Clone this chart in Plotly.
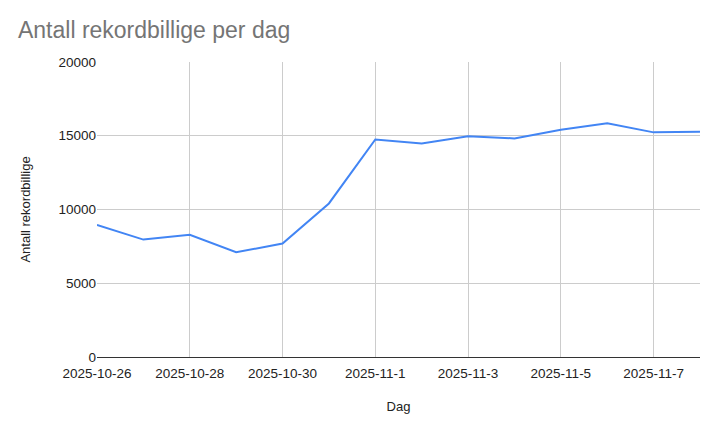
import plotly.graph_objects as go

dates = ["2025-10-26", "2025-10-27", "2025-10-28", "2025-10-29", "2025-10-30",
         "2025-10-31", "2025-11-1", "2025-11-2", "2025-11-3", "2025-11-4",
         "2025-11-5", "2025-11-6", "2025-11-7", "2025-11-8"]
antall = [8960, 7960, 8280, 7100, 7690, 10410, 14750, 14480, 14960, 14820,
          15410, 15840, 15230, 15270]
tick_labels = dates[::2]
y_ticks = [0, 5000, 10000, 15000, 20000]

fig = go.Figure()
fig.add_trace(go.Scatter(x=dates, y=antall, mode="lines",
                         line=dict(color="#4285F4", width=2)))

# page body has an 8px margin, so the figure is a bit smaller than the window
fig.update_layout(
    width=712, height=425,
    margin=dict(l=89, r=20, t=54, b=76),
    paper_bgcolor="white", plot_bgcolor="white",
    font=dict(family="Liberation Sans, Arial", size=13, color="#222222"),
    title=dict(text="Antall rekordbillige per dag", x=0.014, xanchor="left",
               y=0.948, yanchor="middle",
               font=dict(size=23, color="#757575")),
    showlegend=False,
)
fig.update_xaxes(type="category", range=[0, 13],
                 tickvals=tick_labels, ticktext=tick_labels,
                 showgrid=True, gridcolor="#cccccc", gridwidth=1,
                 showline=True, linecolor="#333333", linewidth=1,
                 ticks="", tickfont=dict(size=13.5), ticklabelstandoff=4,
                 title=dict(text="Dag", font=dict(size=13), standoff=21))
fig.update_yaxes(range=[0, 20000], tickvals=y_ticks,
                 tickformat="d", showgrid=True, gridcolor="#cccccc",
                 zeroline=False, ticks="", tickfont=dict(size=13.5),
                 title=dict(text="Antall rekordbillige", font=dict(size=13),
                            standoff=24))

fig.write_html("out.html")
